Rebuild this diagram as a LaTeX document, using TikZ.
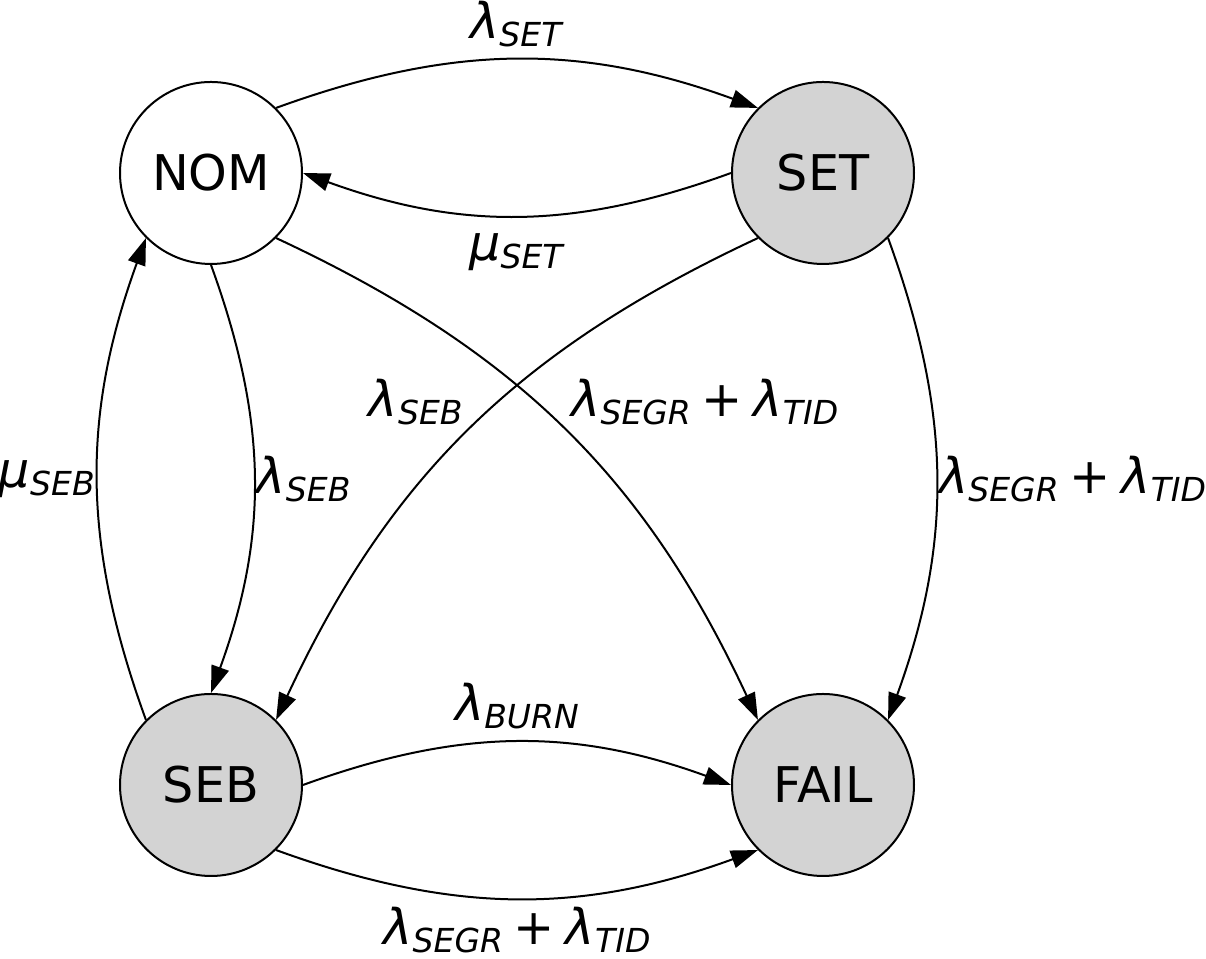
\documentclass[tikz,border=0pt]{standalone}
\usepackage{fontspec}
\setmainfont{DejaVu Sans}
\usetikzlibrary{arrows.meta}

\definecolor{stategray}{RGB}{211,211,211}

\newcommand{\rate}[2]{\textit{#1}\raisebox{-2.3pt}{\fontsize{9.4}{9.4}\selectfont\textit{#2}}}
\newcommand{\plus}{\hspace{0.22em}+\hspace{0.22em}}

\def \stateRadius{0.92}
\def \nomCenterX{2.11}
\def \nomCenterY{7.86}
\def \setCenterX{8.23}
\def \setCenterY{7.86}
\def \sebCenterX{2.11}
\def \sebCenterY{1.74}
\def \failCenterX{8.23}
\def \failCenterY{1.74}

\begin{document}
\begin{tikzpicture}[
    font=\fontsize{14}{17}\selectfont,
    state/.style={circle, draw, line width=0.02cm, inner sep=0pt, minimum size=2*\stateRadius cm - 0.02cm},
    trans/.style={line width=0.02cm, -{Triangle[length=0.27cm, width=0.18cm]}}
  ]
\useasboundingbox (0,0) rectangle (12.06,9.59);

% ---- States
\node[state] (nom) at (\nomCenterX, \nomCenterY) {NOM};
\node[state, fill=stategray] (set) at (\setCenterX, \setCenterY) {SET};
\node[state, fill=stategray] (seb) at (\sebCenterX, \sebCenterY) {SEB};
\node[state, fill=stategray] (fail) at (\failCenterX, \failCenterY) {FAIL};

% ---- Transitions
\draw[trans] (nom.45) to[bend left=20] node[midway, above] {\rate{λ}{SET}} (set.135);
\draw[trans] (set.180) to[bend left=20] node[midway, below, yshift=-0.05cm] {\rate{μ}{SET}} (nom.0);
\draw[trans] (nom.270) to[bend left=20] node[midway, right, inner sep=0.02cm] {\rate{λ}{SEB}} (seb.90);
\draw[trans] (seb.135) to[bend left=20] node[midway, left, inner sep=0.02cm] {\rate{μ}{SEB}} (nom.225);
\draw[trans] (set.-45) to[bend left=20] node[midway, right, inner sep=0.02cm] {\rate{λ}{SEGR}\plus\rate{λ}{TID}} (fail.45);
\draw[trans] (seb.0) to[bend left=20] node[midway, above] {\rate{λ}{BURN}} (fail.180);
\draw[trans] (seb.-45) to[bend right=20] node[midway, below, yshift=0.04cm] {\rate{λ}{SEGR}\plus\rate{λ}{TID}} (fail.-135);
\draw[trans] (nom.-45) to[bend left=20] node[midway, above right, inner sep=0.05cm] {\rate{λ}{SEGR}\plus\rate{λ}{TID}} (fail.135);
\draw[trans] (set.-135) to[bend right=20] node[midway, above left, inner sep=0.05cm] {\rate{λ}{SEB}} (seb.45);
\end{tikzpicture}
\end{document}
